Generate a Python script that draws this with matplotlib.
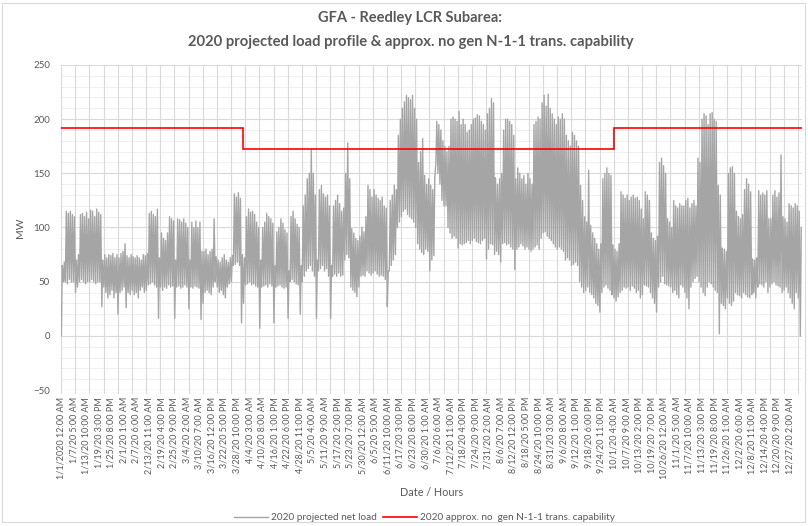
import numpy as np
import matplotlib
matplotlib.use("Agg")
import matplotlib.pyplot as plt
from matplotlib.patches import Rectangle

# ---------------- data ----------------
# daily maximum of the projected net load (MW), one value per day of 2020
daily_max = [
    65, 68, 115, 113, 115, 112, 110,
    70, 75, 112, 113, 110, 114, 108,
    116, 115, 110, 117, 114, 112, 70,
    75, 72, 75, 74, 76, 72, 75,
    72, 76, 78, 85, 74, 72, 75,
    73, 72, 74, 72, 70, 75, 74,
    76, 113, 115, 112, 110, 117, 72,
    95, 90, 88, 95, 110, 108, 106,
    70, 108, 107, 105, 108, 104, 100,
    70, 105, 100, 106, 100, 105, 78,
    78, 80, 75, 78, 80, 108, 73,
    70, 68, 72, 75, 70, 68, 72,
    74, 131, 128, 132, 127, 75, 72,
    110, 117, 114, 115, 112, 105, 100,
    70, 100, 105, 113, 110, 108, 104,
    65, 96, 100, 108, 104, 98, 95,
    60, 110, 115, 108, 103, 100, 65,
    120, 130, 145, 150, 172, 150, 130,
    70, 135, 139, 131, 128, 130, 120,
    65, 120, 125, 130, 122, 115, 118,
    150, 178, 145, 99, 95, 90, 88,
    92, 100, 96, 110, 139, 135, 128,
    135, 130, 127, 125, 128, 120, 118,
    60, 125, 130, 139, 135, 185, 200,
    210, 216, 222, 220, 218, 222, 210,
    200, 160, 170, 182, 148, 140, 145,
    139, 135, 146, 198, 195, 190, 180,
    175, 170, 175, 200, 202, 200, 198,
    207, 195, 200, 195, 188, 190, 195,
    200, 201, 204, 203, 198, 195, 190,
    205, 210, 219, 215, 146, 140, 145,
    150, 190, 200, 200, 198, 195, 185,
    145, 155, 150, 145, 148, 140, 150,
    145, 140, 195, 198, 202, 200, 215,
    222, 212, 223, 210, 205, 200, 195,
    202, 200, 205, 200, 185, 180, 175,
    188, 185, 180, 175, 139, 125, 110,
    105, 153, 102, 95, 90, 85, 80,
    85, 145, 150, 155, 150, 148, 84,
    80, 78, 85, 133, 130, 127, 130,
    125, 128, 130, 127, 128, 125, 117,
    108, 133, 130, 125, 95, 90, 88,
    92, 160, 164, 157, 150, 108, 105,
    100, 125, 120, 118, 122, 120, 120,
    125, 127, 118, 122, 125, 120, 164,
    160, 200, 205, 203, 195, 205, 206,
    200, 198, 139, 130, 81, 80, 78,
    150, 155, 156, 150, 115, 110, 108,
    112, 135, 145, 140, 133, 71, 70,
    72, 134, 130, 132, 130, 134, 108,
    108, 130, 134, 128, 132, 167, 110,
    108, 105, 122, 120, 118, 122, 120,
    115, 100,
]

# daily minimum of the projected net load (MW)
daily_min = [
    0, 50, 50, 48, 52, 50, 50,
    40, 45, 50, 52, 50, 48, 50,
    50, 52, 50, 48, 50, 50, 27,
    45, 40, 35, 38, 42, 35, 40,
    20, 40, 42, 45, 26, 40, 38,
    42, 38, 40, 35, 42, 45, 40,
    42, 47, 48, 50, 47, 45, 16,
    45, 42, 45, 44, 47, 45, 46,
    16, 45, 46, 44, 45, 47, 45,
    25, 45, 44, 46, 45, 44, 15,
    30, 40, 42, 40, 38, 45, 50,
    45, 40, 42, 38, 35, 45, 48,
    50, 65, 66, 68, 65, 12, 30,
    47, 48, 50, 47, 48, 46, 45,
    7, 45, 46, 47, 45, 48, 46,
    12, 45, 46, 47, 45, 44, 45,
    16, 50, 52, 50, 48, 47, 20,
    50, 55, 60, 62, 65, 60, 55,
    16, 60, 62, 65, 60, 62, 55,
    16, 55, 57, 55, 58, 55, 56,
    70, 75, 72, 45, 42, 40, 36,
    45, 55, 56, 55, 60, 58, 56,
    58, 60, 57, 55, 56, 55, 52,
    27, 60, 65, 70, 75, 100, 105,
    110, 115, 117, 112, 110, 108, 105,
    100, 85, 80, 77, 75, 80, 78,
    60, 70, 74, 160, 150, 140, 125,
    120, 120, 100, 95, 90, 92, 90,
    81, 85, 84, 85, 86, 88, 85,
    88, 90, 87, 86, 85, 88, 90,
    71, 80, 85, 84, 75, 78, 75,
    68, 85, 86, 84, 85, 82, 80,
    61, 80, 82, 85, 83, 80, 82,
    80, 78, 80, 82, 84, 80, 90,
    95, 96, 92, 90, 88, 85, 82,
    80, 82, 80, 78, 70, 72, 70,
    65, 66, 68, 65, 50, 45, 40,
    42, 45, 40, 38, 35, 30, 28,
    22, 40, 45, 47, 44, 42, 38,
    35, 32, 36, 40, 42, 45, 44,
    45, 42, 46, 44, 40, 42, 35,
    38, 47, 46, 45, 40, 35, 30,
    22, 45, 50, 55, 48, 47, 46,
    45, 40, 42, 38, 35, 47, 45,
    40, 35, 25, 45, 50, 53, 55,
    50, 45, 40, 37, 45, 50, 48,
    45, 42, 40, 2, 30, 28, 25,
    35, 30, 28, 32, 40, 38, 37,
    35, 40, 38, 36, 35, 38, 40,
    35, 45, 48, 47, 45, 50, 40,
    45, 48, 50, 47, 46, 45, 40,
    42, 45, 40, 35, 30, 25, 40,
    35, 0,
]

# approx. no gen N-1-1 transmission capability (MW) and the hours where it changes
cap_values = [192, 172, 192]
cap_breaks = [0, 2160, 6552, 8784]

# x-axis category labels (every 149 hours)
tick_labels = [
    "1/1/2020 12:00 AM", "1/7/20 5:00 AM", "1/13/20 10:00 AM", "1/19/20 3:00 PM",
    "1/25/20 8:00 PM", "2/1/20 1:00 AM", "2/7/20 6:00 AM", "2/13/20 11:00 AM",
    "2/19/20 4:00 PM", "2/25/20 9:00 PM", "3/4/20 2:00 AM", "3/10/20 7:00 AM",
    "3/16/20 12:00 PM", "3/22/20 5:00 PM", "3/28/20 10:00 PM", "4/4/20 3:00 AM",
    "4/10/20 8:00 AM", "4/16/20 1:00 PM", "4/22/20 6:00 PM", "4/28/20 11:00 PM",
    "5/5/20 4:00 AM", "5/11/20 9:00 AM", "5/17/20 2:00 PM", "5/23/20 7:00 PM",
    "5/30/20 12:00 AM", "6/5/20 5:00 AM", "6/11/20 10:00 AM", "6/17/20 3:00 PM",
    "6/23/20 8:00 PM", "6/30/20 1:00 AM", "7/6/20 6:00 AM", "7/12/20 11:00 AM",
    "7/18/20 4:00 PM", "7/24/20 9:00 PM", "7/31/20 2:00 AM", "8/6/20 7:00 AM",
    "8/12/20 12:00 PM", "8/18/20 5:00 PM", "8/24/20 10:00 PM", "8/31/20 3:00 AM",
    "9/6/20 8:00 AM", "9/12/20 1:00 PM", "9/18/20 6:00 PM", "9/24/20 11:00 PM",
    "10/1/20 4:00 AM", "10/7/20 9:00 AM", "10/13/20 2:00 PM", "10/19/20 7:00 PM",
    "10/26/20 12:00 AM", "11/1/20 5:00 AM", "11/7/20 10:00 AM", "11/13/20 3:00 PM",
    "11/19/20 8:00 PM", "11/26/20 1:00 AM", "12/2/20 6:00 AM", "12/8/20 11:00 AM",
    "12/14/20 4:00 PM", "12/20/20 9:00 PM", "12/27/20 2:00 AM",
]
label_step = 149   # hours between labels
grid_step = 168    # hours between vertical gridlines
n_hours = 8784

# ---------------- build the load trace ----------------
days = np.arange(len(daily_max))
hrs = np.column_stack([days * 24 + 4, days * 24 + 15]).ravel()
load = np.column_stack([daily_min, daily_max]).ravel()

# ---------------- figure ----------------
plt.rcParams['font.family'] = ['Lato', 'DejaVu Sans']
txt = '#595959'
fig = plt.figure(figsize=(8.08, 5.26), dpi=100)
ax = fig.add_axes([61 / 808, 1 - 390 / 526, 741 / 808, 325 / 526])

ax.plot(hrs, load, color='#A5A5A5', lw=1.0, zorder=3,
        label='2020 projected net load')
ax.stairs(cap_values, cap_breaks, color='#FF0000', lw=1.2, zorder=4,
          baseline=None, label='2020 approx. no  gen N-1-1 trans. capability')

ax.set_xlim(0, n_hours)
ax.set_ylim(-50, 250)
ax.set_yticks(np.arange(-50, 251, 50))
ax.set_yticks(np.arange(-50, 251, 10), minor=True)
ax.tick_params(axis='y', which='both', length=0, labelsize=7, labelcolor=txt, pad=8)

# vertical gridlines
for h in np.arange(0, n_hours + 1, grid_step):
    ax.axvline(h, color='#D9D9D9', lw=0.8, zorder=1)
ax.grid(axis='y', which='major', color='#D9D9D9', lw=0.8, zorder=1)
ax.grid(axis='y', which='minor', color='#EFEFEF', lw=0.7, zorder=0)
ax.set_axisbelow(True)

ax.set_xticks(np.arange(len(tick_labels)) * label_step)
ax.set_xticklabels(tick_labels, rotation=90, fontsize=6.5, color=txt)
ax.tick_params(axis='x', length=0, pad=5)
# small weekly tick marks below the axis
for h in np.arange(0, n_hours + 1, grid_step):
    ax.plot([h, h], [-50, -52.5], color='#D9D9D9', lw=0.8, clip_on=False, zorder=1)

for s in ax.spines.values():
    s.set_visible(False)
ax.axhline(-50, color='#D9D9D9', lw=0.8, zorder=1)

ax.set_ylabel('MW', fontsize=7.5, color=txt, labelpad=6)
ax.set_xlabel('Date / Hours', fontsize=7.8, color=txt, labelpad=6)

fig.text(0.508, 1 - 18 / 526, 'GFA - Reedley LCR Subarea:', ha='center', va='center',
         fontsize=10.5, fontweight='bold', color=txt)
fig.text(0.508, 1 - 42 / 526,
         '2020 projected load profile & approx. no gen N-1-1 trans. capability',
         ha='center', va='center', fontsize=10.6, fontweight='bold', color=txt)

fig.legend(loc='center', bbox_to_anchor=(0.525, 1 - 518 / 526), ncol=2, frameon=False,
           fontsize=7.2, labelcolor=txt, handlelength=3.4, columnspacing=0.6,
           handletextpad=0.3)

fig.patches.append(Rectangle((2 / 808, 4 / 526), 803 / 808, 519 / 526,
                             transform=fig.transFigure, fill=False,
                             edgecolor='#D9D9D9', lw=0.8))

fig.savefig('out.png', dpi=100)
